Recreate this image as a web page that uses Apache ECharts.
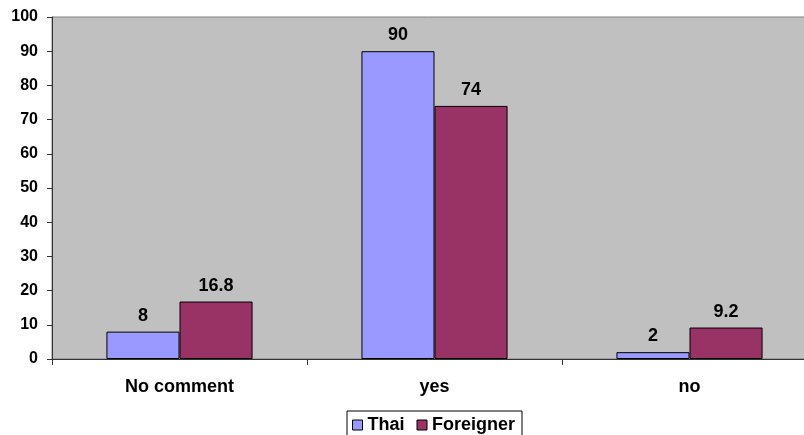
<!DOCTYPE html>
<html>
<head>
<meta charset="utf-8">
<script src="https://cdn.jsdelivr.net/npm/echarts@6/dist/echarts.min.js"></script>
<style>
  html, body { margin: 0; padding: 0; background: #fff; overflow: hidden; }
  #chart { width: 804px; height: 435px; }
</style>
</head>
<body>
<div id="chart"></div>
<script>
// Survey answers by respondent group (percent)
const categories = ['No comment', 'yes', 'no'];
const thai = [8, 90, 2];
const foreigner = [16.8, 74, 9.2];
const yTicks = { min: 0, max: 100, interval: 10 };

const font = 'Liberation Sans, Arial, sans-serif';
const chart = echarts.init(document.getElementById('chart'), null, { renderer: 'canvas' });

const labelStyle = {
  show: true,
  position: 'top',
  distance: 7,
  color: '#000',
  fontFamily: font,
  fontWeight: 'bold',
  fontSize: 18
};

chart.setOption({
  animation: false,
  grid: {
    // the plot runs past the right edge of the canvas
    left: 52, top: 17, bottom: 76, width: 765,
    outerBoundsMode: 'none',
    containLabel: false,
    show: true,
    backgroundColor: '#C0C0C0',
    borderColor: '#808080',
    borderWidth: 1
  },
  legend: {
    top: 411,
    left: 347,
    data: ['Thai', 'Foreigner'],
    itemWidth: 10,
    itemHeight: 10,
    itemGap: 12,
    icon: 'rect',
    borderColor: '#000',
    borderWidth: 1,
    padding: [5, 7, 5, 5],
    backgroundColor: '#fff',
    textStyle: { fontFamily: font, fontWeight: 'bold', fontSize: 18, color: '#000' },
    itemStyle: { borderColor: '#000', borderWidth: 1 }
  },
  xAxis: {
    type: 'category',
    data: categories,
    axisLine: { lineStyle: { color: '#333', width: 1 } },
    axisTick: { show: true, length: 6, lineStyle: { color: '#333' } },
    axisLabel: { color: '#000', fontFamily: font, fontWeight: 'bold', fontSize: 18, margin: 19 }
  },
  yAxis: {
    type: 'value',
    min: yTicks.min, max: yTicks.max, interval: yTicks.interval,
    axisLine: { show: true, lineStyle: { color: '#333', width: 1 } },
    axisTick: { show: true, length: 5, lineStyle: { color: '#333' } },
    splitLine: { show: false },
    axisLabel: { color: '#000', fontFamily: font, fontWeight: 'bold', fontSize: 16, margin: 14 }
  },
  series: [
    {
      name: 'Thai', type: 'bar', data: thai,
      barGap: '0%', barCategoryGap: '42.7%',
      itemStyle: { color: '#9999FF', borderColor: '#000', borderWidth: 1 },
      label: labelStyle
    },
    {
      name: 'Foreigner', type: 'bar', data: foreigner,
      itemStyle: { color: '#993366', borderColor: '#000', borderWidth: 1 },
      label: labelStyle
    }
  ]
});
</script>
</body>
</html>
